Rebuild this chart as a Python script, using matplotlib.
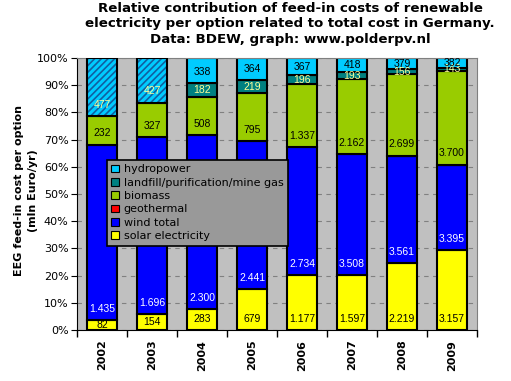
import numpy as np
import matplotlib
matplotlib.use("Agg")
import matplotlib.pyplot as plt
from matplotlib.patches import Patch

years = ["2002", "2003", "2004", "2005", "2006", "2007", "2008", "2009"]

# feed-in costs per option (mln Euro/yr)
solar = [82, 154, 283, 679, 1177, 1597, 2219, 3157]
wind = [1435, 1696, 2300, 2441, 2734, 3508, 3561, 3395]
geothermal = [0, 0, 0, 0, 0, 0, 5, 10]
biomass = [232, 327, 508, 795, 1337, 2162, 2699, 3700]
landfill = [0, 0, 182, 219, 196, 193, 156, 143]
hydro = [477, 427, 338, 364, 367, 418, 379, 382]
# 2002/2003: hydro + gas not split, drawn hatched
hatched = [True, True, False, False, False, False, False, False]

series = [
    ("solar electricity", solar, "#FFFF00", "black"),
    ("wind total", wind, "#0000FF", "white"),
    ("geothermal", geothermal, "#FF0000", None),
    ("biomass", biomass, "#99CC00", "black"),
    ("landfill/purification/mine gas", landfill, "#008080", "#FFFF99"),
    ("hydropower", hydro, "#00CCFF", "black"),
]


def fmt(v):
    return f"{v:,}".replace(",", ".")


plt.rcParams["font.family"] = "DejaVu Sans"
plt.rcParams["hatch.linewidth"] = 1.2
fig = plt.figure(figsize=(5.11, 3.81), dpi=100)
ax = fig.add_axes([77 / 511, 51 / 381, 400 / 511, 272 / 381])
ax.set_facecolor("#C0C0C0")

x = np.arange(len(years))
totals = np.sum([s[1] for s in series], axis=0)
bottom = np.zeros(len(years))
w = 0.6
lab_font = ["Liberation Sans Narrow", "Liberation Sans", "DejaVu Sans"]

for name, vals, color, tcol in series:
    frac = np.array(vals) / totals
    for i in range(len(years)):
        if frac[i] <= 0:
            continue
        is_hatch = name == "hydropower" and hatched[i]
        if is_hatch:
            ax.bar(x[i], frac[i], w, bottom=bottom[i], color=color,
                   edgecolor="#1060A0", hatch="/////", linewidth=0, zorder=2)
            ax.bar(x[i], frac[i], w, bottom=bottom[i], fill=False,
                   edgecolor="black", linewidth=1.5, zorder=3)
        else:
            ax.bar(x[i], frac[i], w, bottom=bottom[i], color=color,
                   edgecolor="black", linewidth=1.5, zorder=2)
        if tcol is not None:
            c = "#FFFF99" if is_hatch else tcol
            ty = bottom[i] + min(0.041, frac[i] / 2)
            ax.text(x[i], ty, fmt(vals[i]), ha="center", va="center",
                    fontsize=7.5, color=c, family=lab_font, zorder=4)
    bottom += frac

ax.set_xlim(-0.5, len(years) - 0.5)
ax.set_ylim(0, 1)
ax.set_yticks(np.linspace(0, 1, 11))
ax.set_yticklabels([f"{int(v)}%" for v in np.linspace(0, 100, 11)], fontsize=8)
ax.yaxis.grid(True, color="#808080", linestyle=(0, (4, 4)), linewidth=0.8)
ax.set_axisbelow(True)

ax.set_xticks(x)
ax.set_xticklabels(years, rotation=90, fontsize=8, fontweight="bold")
ax.set_xticks(np.arange(-0.5, len(years)), minor=True)
ax.tick_params(axis="x", which="major", length=0, pad=7)
ax.tick_params(axis="x", which="minor", length=5, width=1)
ax.tick_params(axis="y", length=4, pad=2)
for s in ["top", "right"]:
    ax.spines[s].set_color("#808080")

handles = [Patch(facecolor=c, edgecolor="black", linewidth=0.8, label=n)
           for n, v, c, t in series[::-1]]
leg = ax.legend(handles=handles, loc="upper left",
                bbox_to_anchor=(0.075, 0.625), fontsize=8, frameon=True,
                fancybox=False, framealpha=1, facecolor="#999999",
                edgecolor="black", handlelength=0.7, handleheight=0.7,
                handletextpad=0.4, labelspacing=0.3, borderpad=0.4,
                borderaxespad=0)
leg.get_frame().set_linewidth(1.2)
leg.set_zorder(5)

fig.text(26 / 511, 0.5, "EEG feed-in cost per option\n(mln Euro/yr)",
         rotation=90, ha="center", va="center", fontsize=8,
         fontweight="bold", linespacing=1.4)
fig.text(290 / 511, 1 - 2 / 381,
         "Relative contribution of feed-in costs of renewable\n"
         "electricity per option related to total cost in Germany.\n"
         "Data: BDEW, graph: www.polderpv.nl",
         ha="center", va="top", fontsize=9.6, fontweight="bold",
         linespacing=1.25)

fig.savefig("out.png", dpi=100, facecolor="white")
